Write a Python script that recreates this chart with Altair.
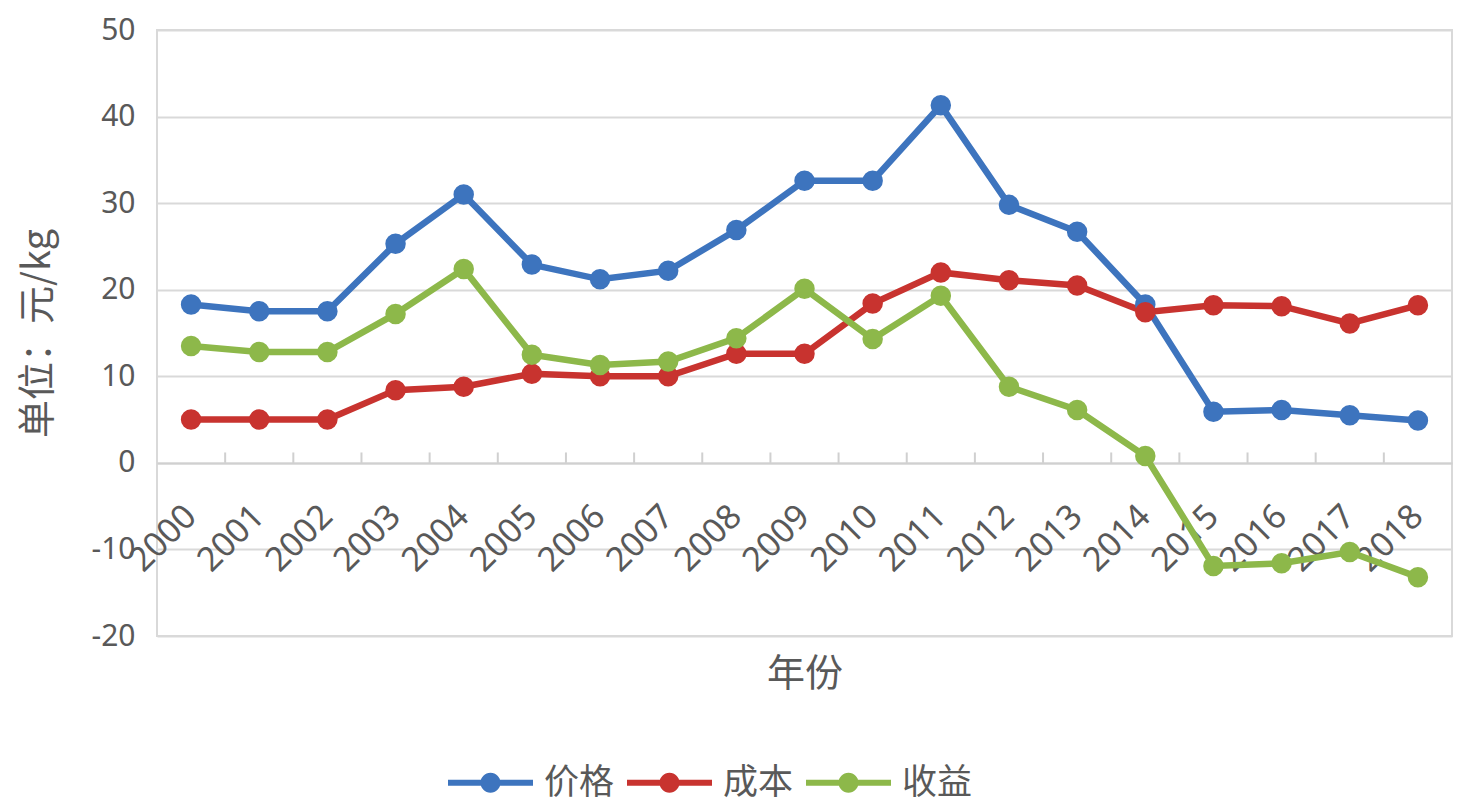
import altair as alt
import pandas as pd

years = [str(y) for y in range(2000, 2019)]
price = [18.3, 17.5, 17.5, 25.3, 31.0, 22.9, 21.2, 22.2, 26.9, 32.6, 32.6, 41.3, 29.8, 26.7, 18.3, 5.9, 6.1, 5.5, 4.9]
cost = [5.0, 5.0, 5.0, 8.4, 8.8, 10.3, 10.0, 10.0, 12.6, 12.6, 18.4, 22.0, 21.1, 20.5, 17.4, 18.2, 18.1, 16.1, 18.2]
profit = [13.5, 12.8, 12.8, 17.2, 22.4, 12.5, 11.3, 11.7, 14.4, 20.1, 14.3, 19.3, 8.8, 6.1, 0.8, -11.9, -11.6, -10.3, -13.2]
series_names = ["价格", "成本", "收益"]
series_colors = ["#3D74BE", "#C8332F", "#8DB84A"]
y_ticks = [-20, -10, 0, 10, 20, 30, 40, 50]

rows = []
for name, vals in zip(series_names, [price, cost, profit]):
    for y, v in zip(years, vals):
        rows.append({"年份": y, "系列": name, "值": v})
df = pd.DataFrame(rows)
ticks_df = pd.DataFrame({"年份": years[1:]})

W, H = 1295, 606
xscale = alt.Scale(type="band", domain=years, paddingInner=0, paddingOuter=0)
yscale = alt.Scale(domain=[-20, 50], nice=False)
color = alt.Color("系列:N", scale=alt.Scale(domain=series_names, range=series_colors),
                  sort=series_names,
                  legend=alt.Legend(
                      title=None, orient="none", direction="horizontal",
                      legendX=316, legendY=735,
                      symbolType="M-4.25,-0.3H4.25V0.3H-4.25Z M-1,0A1,1 0 1,1 1,0A1,1 0 1,1 -1,0Z",
                      symbolSize=400, symbolStrokeWidth=0,
                      labelOffset=36, columnPadding=12,
                      labelFont="Noto Sans CJK SC", labelFontSize=35, labelColor="#595959",
                      symbolOpacity=1))

xenc = alt.X("年份:N", scale=xscale, sort=years,
             axis=alt.Axis(title="年份", titleFont="Noto Sans CJK SC", titleFontSize=38,
                           titleFontWeight="normal", titleColor="#595959",
                           titleY=192,
                           labelAngle=-45, labelFont="Noto Sans", labelFontSize=34,
                           labelColor="#595959", labelPadding=48,
                           ticks=False, domain=True, domainColor="#D0D0D0", domainWidth=2,
                           offset=-173, grid=False))
yenc = alt.Y("值:Q", scale=yscale,
             axis=alt.Axis(title="单位：元/kg", titleFont="Noto Sans CJK SC", titleFontSize=38,
                           titleFontWeight="normal", titleColor="#595959", titlePadding=34,
                           values=y_ticks, labelExpr="datum.value + ''", labelFont="Noto Sans",
                           labelFontSize=30, labelColor="#595959", labelPadding=22,
                           ticks=False, domain=False, grid=True, gridColor="#D9D9D9",
                           gridWidth=2))

lines = alt.Chart(df).mark_line(strokeWidth=6.5).encode(x=xenc, y=yenc, color=color, detail="系列:N")
points = alt.Chart(df).mark_circle(size=420, opacity=1).encode(
    x=alt.X("年份:N", scale=xscale, sort=years), y=alt.Y("值:Q", scale=yscale), color=color)
xticks = alt.Chart(ticks_df).mark_rule(color="#D0D0D0", strokeWidth=2).encode(
    x=alt.X("年份:N", scale=xscale, sort=years, bandPosition=0),
    y=alt.datum(0), y2=alt.datum(1.2))

chart = alt.layer(xticks, lines, points).properties(
    width=W, height=H,
    autosize=alt.AutoSizeParams(type="none"),
    padding={"left": 157, "top": 30, "right": 6, "bottom": 168},
    background="white",
).configure_view(stroke="#D9D9D9", strokeWidth=2)

chart.save("out.html", embed_options={"renderer": "svg", "actions": False})
